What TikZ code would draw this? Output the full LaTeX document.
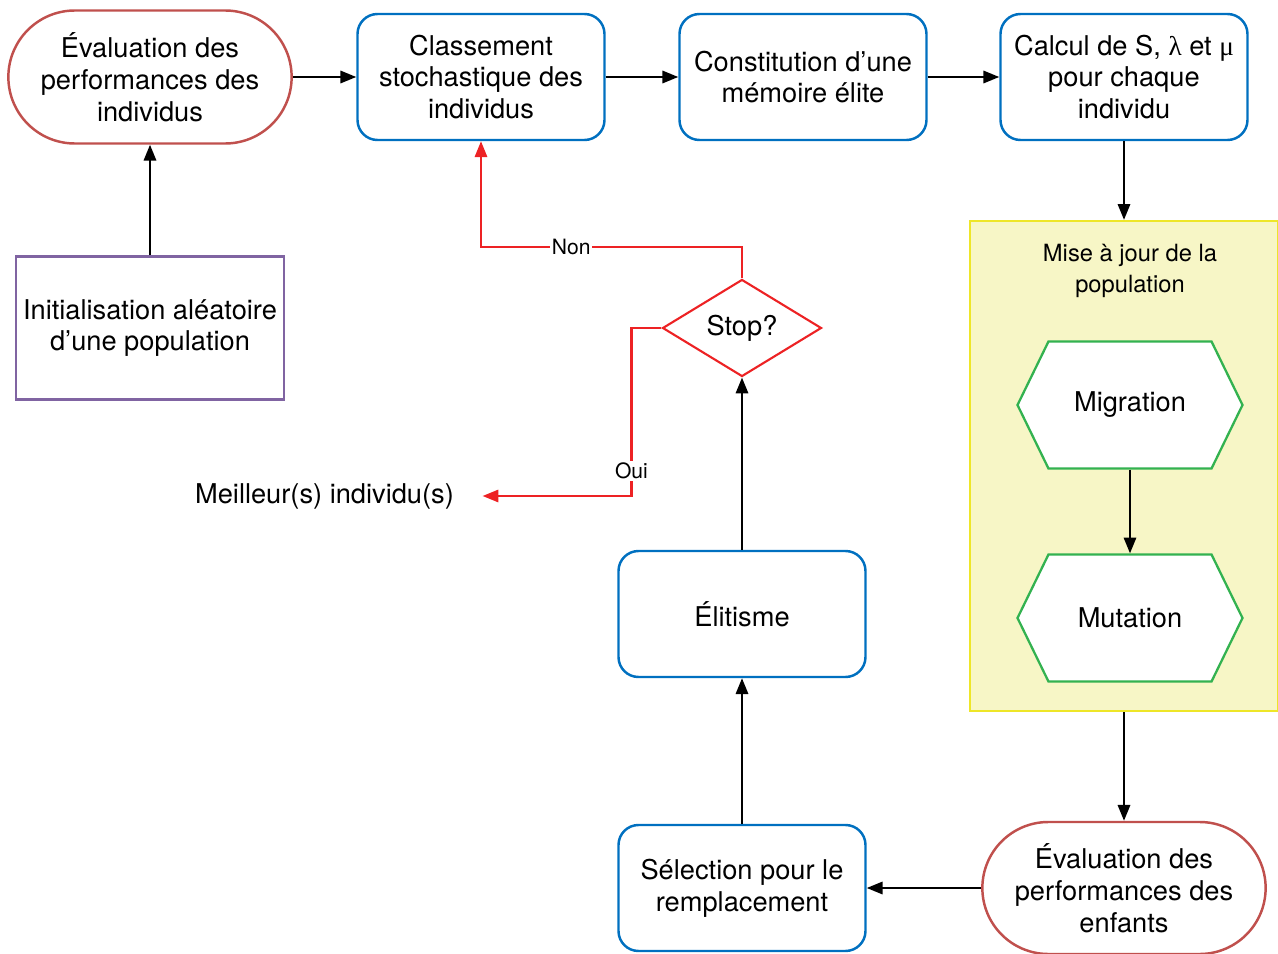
\documentclass[tikz,border=0pt]{standalone}
\usepackage{fontspec}
\setmainfont{TeX Gyre Heros}
\newfontfamily\greekfont{Liberation Serif}
\usetikzlibrary{shapes,arrows.meta,positioning,calc}

\definecolor{evalred}{RGB}{192,80,77}
\definecolor{boxblue}{RGB}{0,112,192}
\definecolor{initpurple}{RGB}{128,100,162}
\definecolor{hexgreen}{RGB}{51,178,80}
\definecolor{popfill}{RGB}{247,246,198}
\definecolor{popline}{RGB}{238,230,40}
\definecolor{loopred}{RGB}{237,34,36}

\begin{document}
\begin{tikzpicture}[font=\fontsize{15.5}{18.1}\selectfont]

% Define styles
\tikzstyle{evalnode} = [rounded rectangle, minimum width=5.9cm, minimum height=2.66cm, align=center, draw=evalred, line width=1.4pt, fill=white]
\tikzstyle{stepbox} = [rectangle, rounded corners=0.4cm, minimum width=4.94cm, minimum height=2.52cm, align=center, draw=boxblue, line width=1.4pt, fill=white]
\tikzstyle{initbox} = [rectangle, minimum width=5.36cm, minimum height=2.86cm, align=center, draw=initpurple, line width=1.3pt]
\tikzstyle{hexnode} = [signal, signal to=east and west, signal pointer angle=128, minimum width=4.5cm, minimum height=2.54cm, inner sep=0pt, draw=hexgreen, line width=1.3pt, fill=white]
\tikzstyle{decision} = [diamond, minimum width=3.18cm, minimum height=1.88cm, inner sep=0pt, draw=loopred, line width=1.2pt, fill=white]
\tikzstyle{arrow} = [line width=1.3pt, -{Triangle[length=9pt,width=7pt]}]
\tikzstyle{redarrow} = [line width=1.2pt, draw=loopred, -{Triangle[length=9pt,width=7pt]}]
\tikzstyle{choice} = [font=\fontsize{12}{14}\selectfont, fill=white, inner sep=1pt, text=black]

\useasboundingbox (0,0) rectangle (25.56,-19.08);

% Update block (background)
\node (popbox) [rectangle, minimum width=6.16cm, minimum height=9.8cm, fill=popfill, draw=popline, line width=1.3pt] at (22.48,-9.32) {};
\node (poptitle) [align=center, font=\fontsize{13.5}{18.1}\selectfont] at (22.60,-5.42) {Mise à jour de la\\population};

% Top row
\node (evalpop) [evalnode] at (3.00,-1.54) {Évaluation des\\performances des\\individus};
\node (classement) [stepbox] at (9.62,-1.54) {Classement\\stochastique des\\individus};
\node (elite) [stepbox] at (16.06,-1.54) {Constitution d’une\\mémoire élite};
\node (calcul) [stepbox] at (22.48,-1.54) {Calcul de S, {\greekfont λ} et {\greekfont μ}\\pour chaque\\individu};

% Initialisation
\node (init) [initbox] at (3.00,-6.56) {Initialisation aléatoire\\d’une population};

% Migration and mutation
\node (migration) [hexnode] at (22.60,-8.10) {Migration};
\node (mutation) [hexnode] at (22.60,-12.36) {Mutation};

% Bottom row
\node (evalkids) [evalnode, minimum height=2.64cm] at (22.48,-17.76) {Évaluation des\\performances des\\enfants};
\node (selection) [stepbox] at (14.84,-17.76) {Sélection pour le\\remplacement};
\node (elitisme) [stepbox] at (14.84,-12.28) {Élitisme};

% Stop test
\node (stop) [decision] at (14.84,-6.56) {Stop?};
\node (best) at (6.49,-9.92) {Meilleur(s) individu(s)};

% Main flow
\draw [arrow] (init.north) -- (evalpop.south);
\draw [arrow] (evalpop.east) -- (classement.west);
\draw [arrow] (classement.east) -- (elite.west);
\draw [arrow] (elite.east) -- (calcul.west);
\draw [arrow] (calcul.south) -- (popbox.north);
\draw [arrow] (migration.south) -- (mutation.north);
\draw [arrow] (popbox.south) -- (evalkids.north);
\draw [arrow] (evalkids.west) -- (selection.east);
\draw [arrow] (selection.north) -- (elitisme.south);
\draw [arrow] (elitisme.north) -- (stop.south);

% Loop back or stop
\draw [redarrow] (stop.north) -- ++(0,0.62) -| node[choice, pos=0.327] {Non} (classement.south);
\draw [redarrow, shorten >=0.45cm] (stop.west) -- ++(-0.6,0) |- node[choice, pos=0.426] {Oui} (best.east);

\end{tikzpicture}
\end{document}
